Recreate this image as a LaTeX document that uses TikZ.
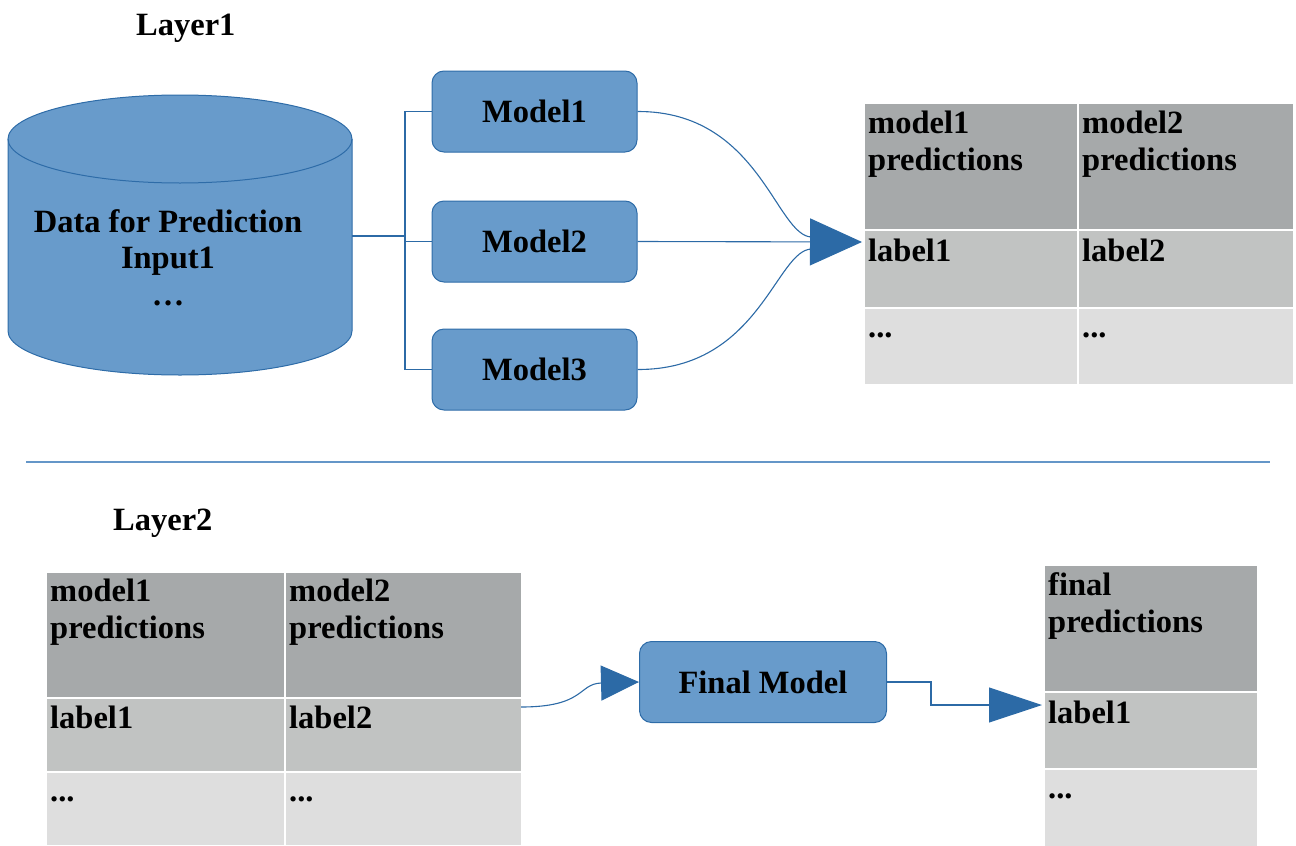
\documentclass[tikz,border=0pt]{standalone}
\usepackage{fontspec}
\setmainfont{Liberation Serif}
\usetikzlibrary{arrows.meta,calc}
\definecolor{boxfill}{RGB}{104,155,203}
\definecolor{boxline}{RGB}{46,108,168}
\definecolor{arrowblue}{RGB}{44,106,166}
\definecolor{hdrgray}{RGB}{166,169,170}
\definecolor{rowgray}{RGB}{193,195,194}
\definecolor{palegray}{RGB}{222,222,222}
\definecolor{sepblue}{RGB}{100,150,200}
\begin{document}
\begin{tikzpicture}[x=1pt,y=-1pt,
  txt/.style={font=\bfseries\fontsize{32.5}{37}\selectfont, inner sep=0pt, text=black},
  model/.style={draw=boxline, fill=boxfill, line width=1pt, rounded corners=12pt, txt},
  cellbase/.style={draw=white, line width=1.6pt, anchor=north west, inner sep=0pt},
  hdr/.style={cellbase, fill=hdrgray},
  rowa/.style={cellbase, fill=rowgray},
  rowb/.style={cellbase, fill=palegray},
  sz/.style 2 args={minimum width=#1, minimum height=#2},
  ctxt/.style={txt, anchor=base west},
  conn/.style={draw=arrowblue, line width=1.1pt},
]
\useasboundingbox (0,0) rectangle (1296,846);

% titles
\node[txt, anchor=base west] (layer1) at (136,35) {Layer1};
\node[txt, anchor=base west] (layer2) at (113,530) {Layer2};

% separator
\draw[sepblue, line width=1.5pt] (26,462) -- (1270,462);

% cylinder
\fill[boxfill] (8,139) -- (8,331) arc[start angle=180, end angle=360, x radius=172pt, y radius=44pt]
  -- (352,139) arc[start angle=0, end angle=180, x radius=172pt, y radius=44pt] -- cycle;
\draw[boxline, line width=1pt] (8,139) -- (8,331) arc[start angle=180, end angle=360, x radius=172pt, y radius=44pt]
  -- (352,139);
\draw[boxline, line width=1pt] (180,139) ellipse[x radius=172pt, y radius=44pt];
\node[txt, anchor=base] (d1) at (168,232) {Data for Prediction};
\node[txt, anchor=base] (d2) at (168,268) {Input1};
\node[txt, anchor=base] (d3) at (168,305) {…};
\coordinate (cylr) at (352,236);

% models
\node[model, sz={205}{81}] (m1) at (534.5,111.5) {Model1};
\node[model, sz={205}{81}] (m2) at (534.5,241.5) {Model2};
\node[model, sz={205}{81}] (m3) at (534.5,369.5) {Model3};

% tree connectors
\coordinate (j1) at (405,236);
\draw[conn] (cylr) -- (j1);
\draw[conn] (m1.west) -- (m1.west -| j1) -- (m3.west -| j1) -- (m3.west);
\draw[conn] (m2.west) -- (m2.west -| j1);

% table 1
\node[hdr, sz={214}{127}] (a11) at (863,102) {};
\node[hdr, sz={216}{127}] (a12) at (1077,102) {};
\node[rowa, sz={214}{78}] (a21) at (863,229) {};
\node[rowa, sz={216}{78}] (a22) at (1077,229) {};
\node[rowb, sz={214}{77}] (a31) at (863,307) {};
\node[rowb, sz={216}{77}] (a32) at (1077,307) {};
\node[ctxt] (a11t) at ([shift={(5,31)}]a11.north west) {model1};
\node[ctxt] (a11u) at ([shift={(5,68)}]a11.north west) {predictions};
\node[ctxt] (a12t) at ([shift={(5,31)}]a12.north west) {model2};
\node[ctxt] (a12u) at ([shift={(5,68)}]a12.north west) {predictions};
\node[ctxt] (a21t) at ([shift={(5,32)}]a21.north west) {label1};
\node[ctxt] (a22t) at ([shift={(5,32)}]a22.north west) {label2};
\node[ctxt] (a31t) at ([shift={(5,30)}]a31.north west) {...};
\node[ctxt] (a32t) at ([shift={(5,30)}]a32.north west) {...};

% layer1 arrows
\coordinate (tip1) at (862,242);
\draw[conn, -{Triangle[length=52pt,width=47pt]}] (m2.east) -- (tip1);
\draw[conn] (m1.east) .. controls (760,111) and (776,237) .. (812,237);
\draw[conn] (m3.east) .. controls (760,370) and (776,249) .. (812,249);

% table 2
\node[hdr, sz={239}{126}] (b11) at (45,571) {};
\node[hdr, sz={237}{126}] (b12) at (284,571) {};
\node[rowa, sz={239}{74}] (b21) at (45,697) {};
\node[rowa, sz={237}{74}] (b22) at (284,697) {};
\node[rowb, sz={239}{74}] (b31) at (45,771) {};
\node[rowb, sz={237}{74}] (b32) at (284,771) {};
\node[ctxt] (b11t) at ([shift={(5,30)}]b11.north west) {model1};
\node[ctxt] (b11u) at ([shift={(5,67)}]b11.north west) {predictions};
\node[ctxt] (b12t) at ([shift={(5,30)}]b12.north west) {model2};
\node[ctxt] (b12u) at ([shift={(5,67)}]b12.north west) {predictions};
\node[ctxt] (b21t) at ([shift={(5,31)}]b21.north west) {label1};
\node[ctxt] (b22t) at ([shift={(5,31)}]b22.north west) {label2};
\node[ctxt] (b31t) at ([shift={(5,30)}]b31.north west) {...};
\node[ctxt] (b32t) at ([shift={(5,30)}]b32.north west) {...};

% final model
\node[model, sz={247}{81}] (fm) at (763,682) {Final Model};

% final table
\node[hdr, sz={214}{127}] (c11) at (1043,564) {};
\node[rowa, sz={214}{77}] (c21) at (1043,691) {};
\node[rowb, sz={214}{78}] (c31) at (1043,768) {};
\node[ctxt] (c11t) at ([shift={(5,31)}]c11.north west) {final};
\node[ctxt] (c11u) at ([shift={(5,68)}]c11.north west) {predictions};
\node[ctxt] (c21t) at ([shift={(5,32)}]c21.north west) {label1};
\node[ctxt] (c31t) at ([shift={(5,30)}]c31.north west) {...};

% layer2 arrows
\coordinate (s2) at (521,707);
\draw[conn, -{Triangle[length=38pt,width=35pt]}] (s2) .. controls (585,707) and (578,684) .. (601,683) -- (fm.west);
\coordinate (tip3) at (1042,705);
\draw[conn, -{Triangle[length=53pt,width=35pt]}] (fm.east) -- ++(44,0) |- (tip3);
\end{tikzpicture}
\end{document}
